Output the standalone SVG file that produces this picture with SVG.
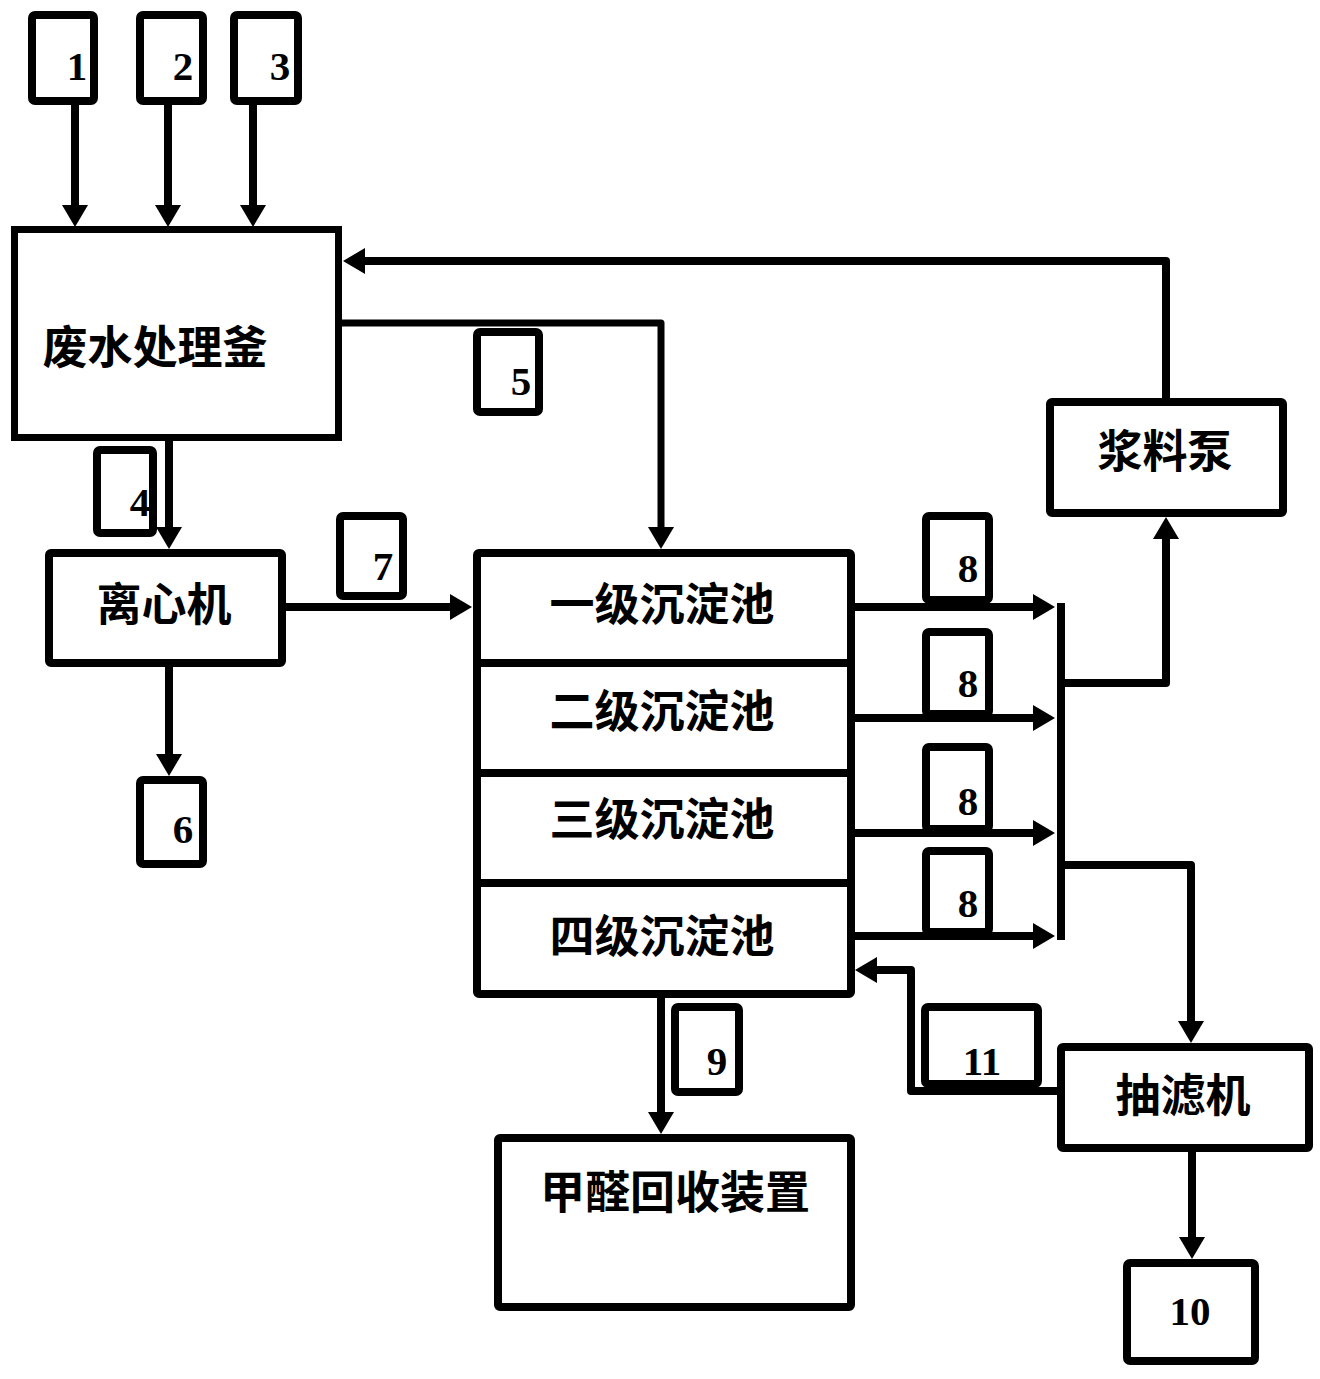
<svg xmlns="http://www.w3.org/2000/svg" width="1320" height="1379" viewBox="0 0 1320 1379">
<style>
.box{fill:#fff;stroke:#000;stroke-width:8;stroke-linejoin:round}
.big{fill:#fff;stroke:#000;stroke-width:7}
.ln{fill:none;stroke:#000;stroke-width:8;stroke-linejoin:round}
.num{font-family:"Liberation Serif","DejaVu Serif",serif;font-weight:bold;font-size:41px;text-anchor:middle;fill:#000}
.cn{font-family:"Noto Sans CJK SC","Noto Sans",sans-serif;font-weight:bold;font-size:45px;text-anchor:middle;fill:#000}
</style>
<defs>
<marker id="ah" viewBox="0 0 22 26" refX="0" refY="13" markerWidth="22" markerHeight="26" markerUnits="userSpaceOnUse" orient="auto">
<path d="M0,0 L22,13 L0,26 Z" fill="#000"/>
</marker>
</defs>
<rect width="1320" height="1379" fill="#fff"/>
<g id="connectors">
<path class="ln" d="M75,105 V205" marker-end="url(#ah)"/>
<path class="ln" d="M168,105 V205" marker-end="url(#ah)"/>
<path class="ln" d="M253,105 V205" marker-end="url(#ah)"/>
<path class="ln" d="M169,441 V527" marker-end="url(#ah)"/>
<path class="ln" d="M342,323 H661 V527" marker-end="url(#ah)" style="stroke-width:7"/>
<path class="ln" d="M1166,398 V261 H365" marker-end="url(#ah)"/>
<path class="ln" d="M286,607 H450" marker-end="url(#ah)"/>
<path class="ln" d="M169,667 V754" marker-end="url(#ah)"/>
<path class="ln" d="M855,607 H1033" marker-end="url(#ah)"/>
<path class="ln" d="M855,718 H1033" marker-end="url(#ah)"/>
<path class="ln" d="M855,833 H1033" marker-end="url(#ah)"/>
<path class="ln" d="M855,936 H1033" marker-end="url(#ah)"/>
<path class="ln" d="M1061,603 V940"/>
<path class="ln" d="M1061,683 H1166 V539" marker-end="url(#ah)"/>
<path class="ln" d="M1061,865 H1191 V1021" marker-end="url(#ah)"/>
<path class="ln" d="M661,998 V1112" marker-end="url(#ah)"/>
<path class="ln" d="M1192,1152 V1237" marker-end="url(#ah)"/>
<path class="ln" d="M1057,1091 H911 V970 H877" marker-end="url(#ah)"/>
</g>
<g id="n1"><rect class="box" x="32" y="15" width="62" height="86" rx="3"/><text class="num" x="77" y="80">1</text></g>
<g id="n2"><rect class="box" x="140" y="15" width="63" height="86" rx="3"/><text class="num" x="183" y="80">2</text></g>
<g id="n3"><rect class="box" x="234" y="15" width="64" height="86" rx="3"/><text class="num" x="280" y="80">3</text></g>
<g id="reactor"><rect class="big" x="14.5" y="229.5" width="324" height="208"/><text class="cn" x="155" y="364">废水处理釜</text></g>
<g id="n4"><rect class="box" x="97" y="450" width="56" height="83" rx="3"/><text class="num" x="140" y="516">4</text></g>
<g id="n5"><rect class="box" x="477" y="332" width="62" height="80" rx="3"/><text class="num" x="521" y="395">5</text></g>
<g id="centrifuge"><rect class="box" x="49" y="553" width="233" height="110" rx="2"/><text class="cn" x="164" y="621">离心机</text></g>
<g id="n7"><rect class="box" x="340" y="516" width="63" height="80" rx="3"/><text class="num" x="383" y="580">7</text></g>
<g id="n6"><rect class="box" x="140" y="780" width="63" height="84" rx="3"/><text class="num" x="183" y="843">6</text></g>
<g id="tanks">
<rect class="box" x="477" y="553" width="374" height="441" rx="2"/>
<line class="ln" x1="477" y1="663" x2="851" y2="663"/>
<line class="ln" x1="477" y1="773" x2="851" y2="773"/>
<line class="ln" x1="477" y1="883" x2="851" y2="883"/>
<text class="cn" x="662" y="621">一级沉淀池</text>
<text class="cn" x="662" y="728">二级沉淀池</text>
<text class="cn" x="662" y="836">三级沉淀池</text>
<text class="cn" x="662" y="953">四级沉淀池</text>
</g>
<g id="n8a"><rect class="box" x="926" y="516" width="63" height="84" rx="3"/><text class="num" x="968" y="582">8</text></g>
<g id="n8b"><rect class="box" x="926" y="632" width="63" height="82" rx="3"/><text class="num" x="968" y="697">8</text></g>
<g id="n8c"><rect class="box" x="926" y="747" width="63" height="82" rx="3"/><text class="num" x="968" y="815">8</text></g>
<g id="n8d"><rect class="box" x="926" y="851" width="63" height="81" rx="3"/><text class="num" x="968" y="917">8</text></g>
<g id="pump"><rect class="box" x="1050" y="402" width="233" height="111" rx="2"/><text class="cn" x="1165" y="468">浆料泵</text></g>
<g id="n9"><rect class="box" x="675" y="1007" width="64" height="85" rx="3"/><text class="num" x="717" y="1075">9</text></g>
<g id="recovery"><rect class="box" x="498" y="1138" width="353" height="169" rx="2"/><text class="cn" x="675" y="1209">甲醛回收装置</text></g>
<g id="n11"><rect class="box" x="925" y="1007" width="113" height="77" rx="3"/><text class="num" x="982" y="1075">11</text></g>
<g id="filter"><rect class="box" x="1061" y="1047" width="248" height="101" rx="2"/><text class="cn" x="1183" y="1112">抽滤机</text></g>
<g id="n10"><rect class="box" x="1127" y="1263" width="128" height="98" rx="3"/><text class="num" x="1190" y="1325">10</text></g>
</svg>
